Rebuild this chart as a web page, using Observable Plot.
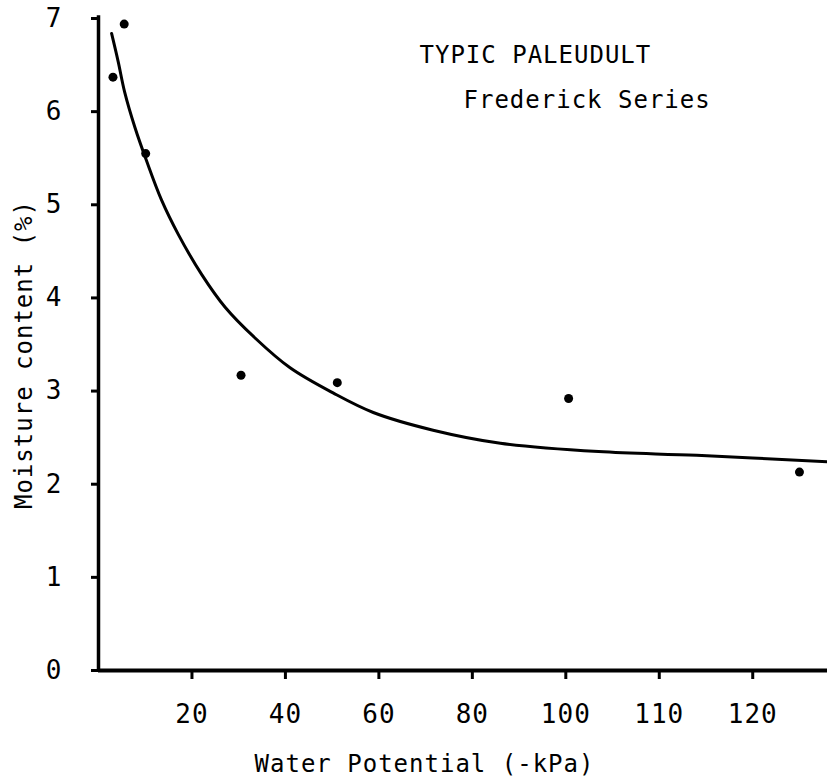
<!DOCTYPE html>
<html>
<head>
<meta charset="utf-8">
<script src="https://cdn.jsdelivr.net/npm/d3@7"></script>
<script src="https://cdn.jsdelivr.net/npm/@observablehq/plot@0.6"></script>
<style>
  html, body { margin: 0; padding: 0; background: #fff; }
  #chart svg .tick line { stroke-width: 3px; }
</style>
</head>
<body>
<div id="chart"></div>
<script>
// Tick positions on the drawn axis and the labels printed under them
const xTickValues = [20, 40, 60, 80, 100, 120, 140];
const xTickLabels = ["20", "40", "60", "80", "100", "110", "120"];
const yTickValues = [0, 1, 2, 3, 4, 5, 6, 7];

// Measured points (water potential, moisture content %)
const pointPotential = [3.1, 5.5, 10.1, 30.5, 51.1, 100.6, 150];
const pointMoisture = [6.37, 6.94, 5.55, 3.17, 3.09, 2.92, 2.13];

// Fitted curve
const curvePotential = [2.8, 4.2, 5.6, 7.8, 10.3, 13.5, 17.1, 22.1, 27.1, 33.5, 41, 50.2, 58.8, 71.6, 86, 107, 128, 156];
const curveMoisture = [6.84, 6.54, 6.21, 5.83, 5.47, 5.05, 4.68, 4.25, 3.90, 3.57, 3.25, 2.98, 2.77, 2.58, 2.44, 2.35, 2.31, 2.24];

// Texts
const titleText = "TYPIC PALEUDULT";
const subtitleText = "Frederick Series";
const xLabelText = "Water Potential (-kPa)";
const yLabelText = "Moisture content (%)";

const points = pointPotential.map((x, i) => ({x, y: pointMoisture[i]}));
const curve = curvePotential.map((x, i) => ({x, y: curveMoisture[i]}));

const xFormat = d => xTickLabels[xTickValues.indexOf(d)];
const yFormat = d => String(d);
const hasAxisMarks = typeof Plot.axisX === "function";

const axisMarks = hasAxisMarks ? [
  Plot.axisX({ticks: xTickValues, tickFormat: xFormat, tickSize: 9, tickPadding: 25, fontSize: 26, strokeWidth: 3, label: null}),
  Plot.axisY({ticks: yTickValues, tickFormat: yFormat, tickSize: 7, tickPadding: 29, fontSize: 26, strokeWidth: 3, label: null})
] : [];

const chart = Plot.plot({
  width: 827,
  height: 784,
  marginLeft: 98,
  marginRight: 0,
  marginTop: 18,
  marginBottom: 114,
  style: "font-family: 'DejaVu Sans Mono', monospace; font-size: 24px; letter-spacing: 1px; background: #fff; color: #000; overflow: visible;",
  x: hasAxisMarks ? {domain: [0, 156]} : {
    domain: [0, 156], ticks: xTickValues, tickFormat: xFormat, tickSize: 9, tickPadding: 25, label: null
  },
  y: hasAxisMarks ? {domain: [0, 7]} : {
    domain: [0, 7], ticks: yTickValues, tickFormat: yFormat, tickSize: 7, tickPadding: 29, label: null
  },
  marks: [
    ...axisMarks,
    Plot.ruleY([0], {stroke: "#000", strokeWidth: 4}),
    Plot.ruleX([0], {y1: 0, y2: 7.03, stroke: "#000", strokeWidth: 3.5}),
    Plot.line(curve, {x: "x", y: "y", curve: "catmull-rom", stroke: "#000", strokeWidth: 3}),
    Plot.dot(points, {x: "x", y: "y", r: 4.5, fill: "#000", stroke: null}),
    Plot.text([titleText], {frameAnchor: "top-left", dx: 321, dy: 37, textAnchor: "start", lineAnchor: "middle", fill: "#000"}),
    Plot.text([subtitleText], {frameAnchor: "top-left", dx: 365, dy: 82, textAnchor: "start", lineAnchor: "middle", fill: "#000"}),
    Plot.text([xLabelText], {frameAnchor: "top-left", dx: 326, dy: 746, textAnchor: "middle", lineAnchor: "middle", fill: "#000"}),
    Plot.text([yLabelText], {frameAnchor: "top-left", dx: -74, dy: 336, rotate: -90, textAnchor: "middle", lineAnchor: "middle", fill: "#000"})
  ]
});
document.getElementById("chart").appendChild(chart);
</script>
</body>
</html>
